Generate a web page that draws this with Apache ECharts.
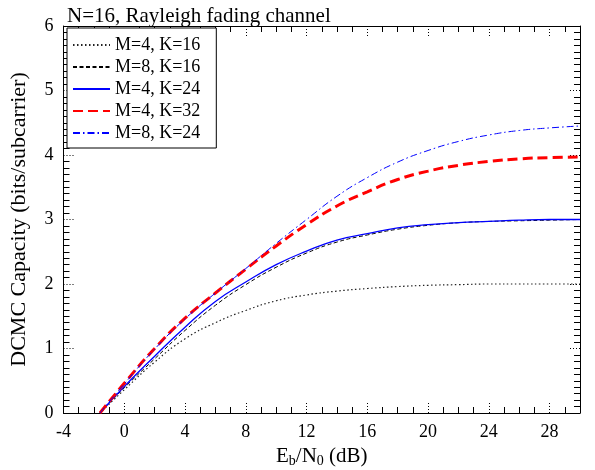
<!DOCTYPE html>
<html>
<head>
    <meta charset="utf-8">
    <script src="https://cdn.jsdelivr.net/npm/echarts@6/dist/echarts.min.js"></script>
</head>
<body style="margin:0">
    <div id="main" style="width: 595px;height:470px;"></div>
    <script type="text/javascript">

    // Eb/N0 (dB) sample points
    var ebn0 = [-1.6, 0, 2, 4, 6, 8, 10, 12, 14, 16, 18, 20, 22, 24, 26, 28, 30];
    var m4k16 = [0, 0.36, 0.79, 1.15, 1.40, 1.59, 1.74, 1.83, 1.89, 1.93, 1.96, 1.98, 1.99, 2.00, 2.00, 2.00, 2.00];
    var m8k16 = [0, 0.39, 0.84, 1.28, 1.67, 1.99, 2.26, 2.48, 2.65, 2.76, 2.85, 2.91, 2.95, 2.97, 2.98, 2.99, 3.00];
    var m4k24 = [0, 0.41, 0.88, 1.33, 1.73, 2.03, 2.30, 2.51, 2.68, 2.78, 2.87, 2.92, 2.95, 2.97, 2.99, 3.00, 3.00];
    var m4k32 = [0, 0.46, 1.00, 1.47, 1.86, 2.23, 2.59, 2.92, 3.21, 3.43, 3.62, 3.75, 3.84, 3.90, 3.94, 3.96, 3.97];
    var m8k24 = [0, 0.45, 0.99, 1.46, 1.86, 2.24, 2.63, 3.00, 3.36, 3.65, 3.89, 4.07, 4.21, 4.31, 4.38, 4.42, 4.45];
    var names = ['M=4, K=16', 'M=8, K=16', 'M=4, K=24', 'M=4, K=32', 'M=8, K=24'];

    function pairs(ys) {
        return ebn0.map(function (x, i) { return [x, ys[i]]; });
    }

    var font = 'Liberation Serif';
    var minorX = [];
    for (var v = -4; v <= 30; v++) {
        if (v % 4 !== 0) minorX.push(v);
    }

    var majorTick = {
        show: true, inside: true, length: 12,
        lineStyle: {color: '#000', width: 1, type: [1, 2]}
    };
    var minorTickX = {
        show: true, inside: true, length: 6, customValues: minorX,
        lineStyle: {color: '#000', width: 1}
    };
    var minorTickY = {
        show: true, splitNumber: 10, length: 6,
        lineStyle: {color: '#000', width: 1}
    };
    var line = {show: true, onZero: false, lineStyle: {color: '#000', width: 1}};

    var myChart = echarts.init(document.getElementById('main'));

    myChart.setOption({
        animation: false,
        title: {
            text: 'N=16, Rayleigh fading channel',
            left: 62, top: 1,
            textStyle: {fontFamily: font, fontSize: 21, fontWeight: 'normal', color: '#000'}
        },
        legend: {
            orient: 'vertical',
            left: 67, top: 28,
            padding: [8, 16, 6, 5],
            itemGap: 4,
            itemWidth: 37,
            itemHeight: 18,
            borderColor: '#000',
            borderWidth: 1,
            borderRadius: 0,
            backgroundColor: '#fff',
            itemStyle: {opacity: 0},
            textStyle: {fontFamily: font, fontSize: 18, color: '#000'},
            data: names
        },
        grid: [
            {left: 63.5, right: 15, top: 26, bottom: 57, outerBoundsMode: 'none'},
            {left: 63.5, right: 15, top: 26, bottom: 57, outerBoundsMode: 'none'}
        ],
        xAxis: [
            {
                type: 'value', gridIndex: 0, position: 'bottom',
                min: -4, max: 30, interval: 4,
                axisLine: line, axisTick: majorTick, splitLine: {show: false},
                axisLabel: {showMaxLabel: false, margin: 10, fontFamily: font, fontSize: 18, color: '#000'},
                name: '{n|E}{s|b}{n|/N}{s|0}{n| (dB)}',
                nameLocation: 'middle', nameGap: 29,
                nameTextStyle: {
                    rich: {
                        n: {fontFamily: font, fontSize: 21, lineHeight: 24, color: '#000'},
                        s: {fontFamily: font, fontSize: 14, lineHeight: 12, verticalAlign: 'bottom', color: '#000'}
                    }
                }
            },
            {
                type: 'value', gridIndex: 0, position: 'top',
                min: -4, max: 30, interval: 4,
                axisLine: line, axisTick: majorTick, splitLine: {show: false},
                axisLabel: {show: false}
            },
            {
                type: 'value', gridIndex: 1, position: 'bottom',
                min: -4, max: 30, interval: 1,
                axisLine: {show: false}, axisTick: minorTickX, splitLine: {show: false},
                axisLabel: {show: false}
            },
            {
                type: 'value', gridIndex: 1, position: 'top',
                min: -4, max: 30, interval: 1,
                axisLine: {show: false}, axisTick: minorTickX, splitLine: {show: false},
                axisLabel: {show: false}
            }
        ],
        yAxis: [
            {
                type: 'value', gridIndex: 0, position: 'left',
                min: 0, max: 6, interval: 1,
                axisLine: line, axisTick: majorTick, splitLine: {show: false},
                minorTick: minorTickY, minorSplitLine: {show: false},
                axisLabel: {margin: 10, fontFamily: font, fontSize: 18, color: '#000'},
                name: 'DCMC Capacity (bits/subcarrier)',
                nameLocation: 'middle', nameGap: 33,
                nameTextStyle: {fontFamily: font, fontSize: 22, color: '#000'}
            },
            {
                type: 'value', gridIndex: 0, position: 'right',
                min: 0, max: 6, interval: 1,
                axisLine: line, axisTick: majorTick, splitLine: {show: false},
                minorTick: minorTickY, minorSplitLine: {show: false},
                axisLabel: {show: false}
            },
            {
                type: 'value', gridIndex: 1, min: 0, max: 6,
                show: false
            }
        ],
        series: [
            {
                name: names[0], type: 'line', smooth: true, symbol: 'none',
                xAxisIndex: 0, yAxisIndex: 0,
                lineStyle: {color: '#222', width: 1.2, type: [1.5, 2.5]},
                data: pairs(m4k16)
            },
            {
                name: names[1], type: 'line', smooth: true, symbol: 'none',
                xAxisIndex: 0, yAxisIndex: 0,
                lineStyle: {color: '#000', width: 1, type: [4, 2.5]},
                data: pairs(m8k16)
            },
            {
                name: names[2], type: 'line', smooth: true, symbol: 'none',
                xAxisIndex: 0, yAxisIndex: 0,
                lineStyle: {color: '#0000ff', width: 1.3, type: 'solid'},
                data: pairs(m4k24)
            },
            {
                name: names[3], type: 'line', smooth: true, symbol: 'none',
                xAxisIndex: 0, yAxisIndex: 0,
                lineStyle: {color: '#ff0000', width: 3, type: [10, 5]},
                data: pairs(m4k32)
            },
            {
                name: names[4], type: 'line', smooth: true, symbol: 'none',
                xAxisIndex: 0, yAxisIndex: 0,
                lineStyle: {color: '#0000ff', width: 1, type: [7, 3, 1.5, 3]},
                data: pairs(m8k24)
            }
        ]
    });
</script>
</body>
</html>
